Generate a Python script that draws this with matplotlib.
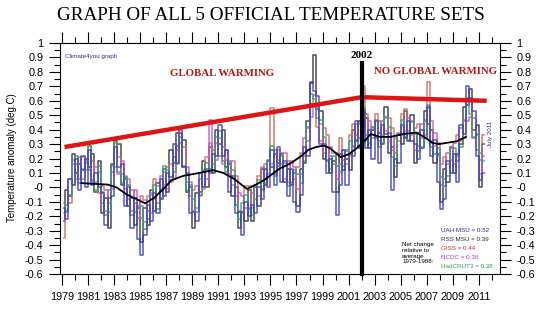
import numpy as np
import matplotlib
matplotlib.use("Agg")
import matplotlib.pyplot as plt
from matplotlib.ticker import MultipleLocator, FixedLocator

# Quarterly anomalies (deg.C), 1979 Q1 .. 2011 Q2
uah = [
    -0.14, -0.22, 0.06, 0.02,
    0.20, -0.02, 0.22, 0.00,
    0.26, 0.02, 0.10, 0.00,
    -0.04, -0.26, -0.07, -0.06,
    0.28, 0.14, 0.16, -0.13,
    0.00, -0.28, -0.07, -0.36,
    -0.47, -0.33, -0.12, -0.23,
    -0.04, -0.18, 0.06, -0.06,
    0.10, 0.07, 0.30, 0.17,
    0.38, 0.14, 0.10, -0.18,
    -0.17, -0.23, 0.10, 0.00,
    0.13, 0.10, 0.23, 0.22,
    0.43, 0.22, 0.26, -0.03,
    0.08, -0.18, -0.17, -0.33,
    -0.10, -0.20, -0.12, -0.18,
    0.00, -0.08, 0.13, 0.00,
    0.26, 0.02, 0.28, 0.04,
    0.18, -0.06, 0.13, -0.10,
    -0.17, -0.05, 0.28, 0.22,
    0.73, 0.67, 0.63, 0.30,
    0.30, 0.10, 0.20, -0.03,
    -0.19, 0.02, 0.26, 0.02,
    0.23, 0.22, 0.46, 0.27,
    0.53, 0.27, 0.40, 0.20,
    0.46, 0.17, 0.43, 0.37,
    0.38, -0.02, 0.20, 0.17,
    0.43, 0.34, 0.46, 0.32,
    0.30, 0.20, 0.40, 0.34,
    0.56, 0.22, 0.33, 0.04,
    -0.15, -0.08, 0.18, 0.10,
    0.23, 0.04, 0.43, 0.37,
    0.70, 0.62, 0.53, 0.22,
    0.05, 0.10,
]
rss = [
    -0.23, -0.02, -0.06, 0.23,
    0.10, 0.16, 0.12, 0.20,
    0.14, 0.23, -0.03, 0.18,
    -0.18, -0.07, -0.28, 0.16,
    0.33, 0.30, 0.02, 0.06,
    -0.13, -0.07, -0.26, -0.14,
    -0.38, -0.14, -0.26, -0.02,
    -0.16, 0.03, -0.08, 0.13,
    -0.03, 0.26, 0.17, 0.38,
    0.40, 0.33, -0.03, 0.00,
    -0.28, -0.04, -0.03, 0.18,
    0.00, 0.28, 0.10, 0.40,
    0.30, 0.40, 0.14, 0.16,
    -0.06, 0.00, -0.28, -0.17,
    -0.23, -0.02, -0.23, 0.00,
    -0.13, 0.13, 0.02, 0.18,
    0.14, 0.23, 0.17, 0.23,
    0.04, 0.13, 0.02, 0.10,
    -0.13, 0.13, 0.17, 0.46,
    0.72, 0.92, 0.54, 0.53,
    0.20, 0.28, 0.10, 0.18,
    -0.03, 0.23, 0.12, 0.20,
    0.12, 0.40, 0.32, 0.46,
    0.42, 0.48, 0.27, 0.40,
    0.34, 0.38, 0.30, 0.56,
    0.24, 0.28, 0.07, 0.36,
    0.30, 0.53, 0.32, 0.50,
    0.17, 0.38, 0.27, 0.53,
    0.44, 0.40, 0.17, 0.23,
    -0.10, 0.13, 0.04, 0.28,
    0.10, 0.23, 0.30, 0.56,
    0.57, 0.68, 0.40, 0.43,
    0.00, 0.30,
]
giss = [
    -0.35, -0.12, -0.11, 0.02,
    0.16, 0.21, 0.06, 0.12,
    0.29, 0.18, 0.04, -0.04,
    0.01, -0.02, -0.11, -0.01,
    0.31, 0.21, 0.09, -0.01,
    0.06, -0.02, -0.11, -0.21,
    -0.06, -0.09, -0.16, -0.18,
    0.06, 0.01, -0.01, 0.02,
    0.14, 0.16, 0.06, 0.16,
    0.31, 0.28, 0.04, -0.06,
    -0.02, 0.01, -0.06, -0.01,
    0.21, 0.31, 0.16, 0.19,
    0.34, 0.28, 0.19, 0.09,
    0.18, 0.08, -0.16, -0.18,
    0.01, 0.01, -0.14, -0.08,
    0.08, 0.14, 0.06, 0.09,
    0.55, 0.26, 0.19, 0.16,
    0.24, 0.18, 0.04, 0.06,
    0.14, 0.24, 0.22, 0.32,
    0.58, 0.64, 0.42, 0.32,
    0.41, 0.36, 0.22, 0.16,
    0.24, 0.34, 0.19, 0.16,
    0.36, 0.44, 0.36, 0.34,
    0.70, 0.51, 0.36, 0.34,
    0.51, 0.46, 0.36, 0.39,
    0.48, 0.41, 0.24, 0.32,
    0.51, 0.54, 0.39, 0.36,
    0.41, 0.44, 0.34, 0.36,
    0.73, 0.46, 0.29, 0.22,
    0.16, 0.21, 0.16, 0.19,
    0.31, 0.36, 0.32, 0.34,
    0.61, 0.61, 0.34, 0.26,
    0.24, 0.36,
]
ncdc = [
    -0.18, -0.16, 0.06, 0.16,
    0.06, 0.06, 0.21, 0.18,
    0.12, 0.04, 0.14, 0.11,
    -0.11, -0.16, -0.02, 0.11,
    0.14, 0.09, 0.18, 0.08,
    -0.08, -0.16, -0.02, -0.09,
    -0.21, -0.24, -0.06, -0.04,
    -0.08, -0.11, 0.08, 0.11,
    -0.01, 0.04, 0.21, 0.26,
    0.40, 0.14, 0.14, 0.04,
    -0.16, -0.14, 0.06, 0.11,
    0.06, 0.47, 0.26, 0.31,
    0.22, 0.16, 0.26, 0.18,
    0.02, -0.06, -0.04, -0.06,
    -0.14, -0.14, -0.04, 0.01,
    -0.06, -0.01, 0.16, 0.18,
    0.16, 0.09, 0.26, 0.24,
    0.06, 0.04, 0.18, 0.14,
    -0.01, 0.09, 0.34, 0.41,
    0.49, 0.56, 0.56, 0.44,
    0.24, 0.19, 0.28, 0.24,
    0.06, 0.16, 0.26, 0.26,
    0.22, 0.29, 0.44, 0.44,
    0.42, 0.36, 0.46, 0.41,
    0.34, 0.32, 0.46, 0.48,
    0.32, 0.26, 0.34, 0.38,
    0.36, 0.39, 0.48, 0.46,
    0.26, 0.29, 0.44, 0.46,
    0.55, 0.32, 0.38, 0.31,
    0.02, 0.06, 0.24, 0.28,
    0.16, 0.22, 0.41, 0.46,
    0.46, 0.49, 0.48, 0.36,
    0.09, 0.22,
]
hadcrut3 = [
    -0.11, -0.17, -0.05, 0.19,
    0.22, 0.03, 0.13, 0.17,
    0.29, 0.05, -0.02, 0.15,
    -0.03, -0.19, -0.17, 0.15,
    0.32, 0.11, 0.03, 0.07,
    0.02, -0.19, -0.17, -0.13,
    -0.13, -0.29, -0.22, -0.05,
    0.02, -0.15, -0.07, 0.15,
    0.12, 0.05, 0.11, 0.29,
    0.35, 0.15, -0.02, 0.02,
    -0.08, -0.17, -0.05, 0.12,
    0.17, 0.13, 0.11, 0.35,
    0.39, 0.18, 0.11, 0.17,
    0.12, -0.12, -0.22, -0.11,
    -0.05, -0.15, -0.19, 0.02,
    0.05, -0.02, 0.03, 0.19,
    0.29, 0.08, 0.15, 0.22,
    0.17, 0.01, 0.03, 0.12,
    0.09, 0.03, 0.18, 0.42,
    0.65, 0.61, 0.48, 0.47,
    0.35, 0.18, 0.13, 0.22,
    0.15, 0.11, 0.15, 0.25,
    0.32, 0.28, 0.33, 0.45,
    0.55, 0.33, 0.31, 0.42,
    0.47, 0.28, 0.31, 0.49,
    0.42, 0.21, 0.15, 0.37,
    0.47, 0.35, 0.33, 0.45,
    0.37, 0.25, 0.28, 0.47,
    0.57, 0.28, 0.23, 0.27,
    0.07, 0.01, 0.08, 0.27,
    0.27, 0.18, 0.28, 0.47,
    0.62, 0.51, 0.35, 0.37,
    0.19, 0.18,
]

# 37-month running mean (black curve)
smooth_year = [1980.5, 1981.5, 1982.5, 1983.2, 1984.0, 1984.7, 1985.4, 1986.1,
               1986.9, 1987.4, 1988.3, 1989.5, 1990.6, 1991.4, 1992.2, 1993.2,
               1993.9, 1994.5, 1995.1, 1995.7, 1996.6, 1997.4, 1997.9, 1998.5,
               1999.1, 1999.6, 2000.4, 2001.0, 2001.6, 2002.1, 2002.7, 2003.4,
               2004.2, 2005.2, 2006.2, 2006.8, 2007.4, 2007.9, 2008.6, 2009.3,
               2010.0]
smooth_val = [0.03, 0.025, 0.02, 0.0, -0.05, -0.08, -0.11, -0.07,
              0.0, 0.05, 0.08, 0.10, 0.12, 0.10, 0.06, -0.01,
              0.02, 0.05, 0.09, 0.13, 0.17, 0.22, 0.26, 0.28,
              0.29, 0.27, 0.21, 0.23, 0.27, 0.31, 0.37, 0.35,
              0.35, 0.37, 0.38, 0.35, 0.31, 0.30, 0.31, 0.32,
              0.35]

# trend lines
trend_year = [1979.2, 2002.0, 2011.6]
trend_val = [0.28, 0.625, 0.60]

net_change = [("UAH MSU = 0.52", "#2a2a9a"),
              ("RSS MSU = 0.39", "#2b2b2b"),
              ("GISS = 0.44", "#d02828"),
              ("NCDC = 0.36", "#c030c8"),
              ("HadCRUT3 = 0.38", "#30a058")]

plt.rcParams["font.family"] = ["Liberation Sans", "DejaVu Sans"]

fig = plt.figure(figsize=(5.45, 3.21), dpi=100)
ax = fig.add_axes([0.110, 0.146, 0.807, 0.720])

t = 1979.125 + 0.25 * np.arange(len(uah))
series = [
    (rss, "#333333"),
    (giss, "#d06a60"),
    (ncdc, "#c455d0"),
    (hadcrut3, "#34a070"),
    (uah, "#4040b8"),
]
for vals, col in series:
    ax.step(t, vals, where="mid", color=col, lw=1.15, alpha=0.85)

ax.plot(smooth_year, smooth_val, color="black", lw=1.3)
ax.plot(trend_year, trend_val, color="#dd1515", lw=3.2, solid_capstyle="butt")
ax.plot([2002, 2002], [-0.6, 0.86], color="black", lw=3, clip_on=False)

ax.set_xlim(1978.85, 2012.6)
ax.set_ylim(-0.6, 1.0)

ax.xaxis.set_major_locator(FixedLocator(np.arange(1979, 2012, 2)))
ax.xaxis.set_minor_locator(FixedLocator(np.arange(1980, 2013, 2)))
ax.yaxis.set_minor_locator(MultipleLocator(0.05))
yt = np.round(np.arange(-0.6, 1.01, 0.1), 1)
ax.set_yticks(yt)
ax.set_yticklabels([f"{v:g}" for v in yt])

ax.tick_params(which="both", direction="out", top=True, right=True,
               labelright=True, width=0.8, labelsize=7.8, pad=4)
ax.tick_params(which="major", length=8)
ax.tick_params(which="minor", length=4)
ax.tick_params(axis="x", pad=5)
for s in ax.spines.values():
    s.set_linewidth(0.8)

fig.text(0.022, 0.51, "Temperature anomaly (deg.C)", rotation=90,
         ha="center", va="center", fontsize=7)

fig.text(0.497, 0.953, "GRAPH OF ALL 5 OFFICIAL TEMPERATURE SETS",
         family="Liberation Serif", fontsize=13.8, ha="center", va="center")

ax.text(1979.2, 0.91, "Climate4you graph", color="#2a2aa0", fontsize=4.5,
        ha="left", va="center")
ax.text(2002, 0.915, "2002", family="Liberation Serif", weight="bold",
        fontsize=8, ha="center", va="center")
ax.text(1991.3, 0.79, "GLOBAL WARMING", family="Liberation Serif",
        weight="bold", color="#b51515", fontsize=7.8, ha="center", va="center")
ax.text(2007.7, 0.80, "NO GLOBAL WARMING", family="Liberation Serif",
        weight="bold", color="#b51515", fontsize=7.8, ha="center", va="center")
ax.text(2011.9, 0.37, "July 2011", rotation=90, color="#2a2aa0",
        fontsize=4.5, ha="center", va="center")

ax.text(2005.1, -0.38, "Net change\nrelative to\naverage\n1979-1988:",
        fontsize=4.5, ha="left", va="top", linespacing=1.15)
for i, (txt, col) in enumerate(net_change):
    ax.text(2008.1, -0.3 - i * 0.0625, txt, color=col, fontsize=4.5,
            ha="left", va="center")

fig.savefig("out.png", dpi=100)
